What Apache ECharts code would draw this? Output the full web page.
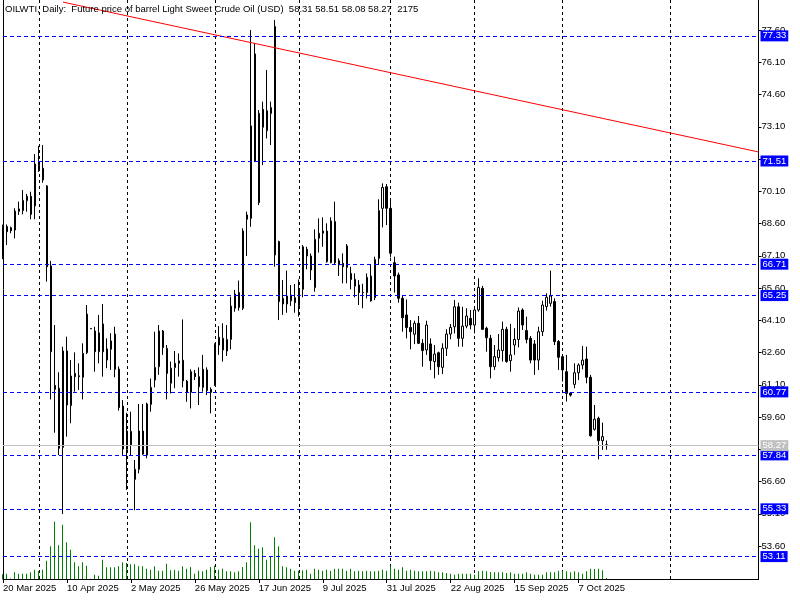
<!DOCTYPE html>
<html>
<head>
<meta charset="utf-8">
<title>OILWTI, Daily</title>
<script src="https://cdn.jsdelivr.net/npm/echarts@6.0.0/dist/echarts.min.js"></script>
<style>
  html, body { margin: 0; padding: 0; background: #fff; }
  #chart { width: 800px; height: 600px; }
</style>
</head>
<body>
<div id="chart"></div>
<script>
// daily bars, [open, close, low, high]
const ohlc = [
  [68.45, 67.06, 66.95, 68.55], [68.46, 68.22, 67.60, 68.56], [68.41, 68.27, 68.15, 68.46], [68.30, 69.18, 67.91, 69.31],
  [69.17, 69.28, 69.00, 69.62], [69.20, 69.68, 69.03, 70.16], [69.66, 69.87, 69.15, 69.98], [69.87, 69.03, 68.80, 70.08],
  [69.42, 71.37, 68.80, 71.83], [71.31, 71.06, 71.00, 72.21], [71.17, 70.63, 70.50, 72.25], [70.35, 66.59, 65.90, 70.39],
  [66.63, 62.64, 60.42, 66.86], [61.07, 60.89, 58.87, 63.88], [60.94, 58.15, 57.83, 61.68], [58.19, 62.67, 55.09, 62.87],
  [62.67, 60.16, 58.69, 63.34], [60.13, 61.51, 59.31, 62.25], [61.63, 61.48, 60.78, 62.61], [61.52, 61.48, 60.86, 62.10],
  [61.45, 62.56, 60.42, 63.03], [62.59, 64.39, 62.53, 64.81], [63.72, 63.70, 63.70, 63.72], [63.60, 62.64, 61.71, 63.80],
  [62.64, 63.52, 62.10, 64.35], [63.93, 62.64, 61.48, 64.86], [62.25, 62.77, 61.87, 63.26], [62.75, 63.14, 61.79, 63.50],
  [63.46, 61.82, 61.45, 63.80], [61.83, 60.04, 59.90, 61.95], [60.11, 58.11, 57.83, 60.39], [58.10, 58.95, 56.21, 59.80],
  [58.93, 58.31, 57.83, 59.85], [56.70, 57.17, 55.27, 57.60], [57.17, 58.95, 56.98, 60.21], [58.95, 57.88, 57.84, 60.21],
  [57.83, 60.21, 57.68, 60.27], [60.19, 60.98, 59.85, 61.39], [61.32, 61.91, 60.98, 63.57], [61.94, 63.60, 61.56, 63.88],
  [63.60, 62.83, 62.49, 63.65], [62.79, 61.63, 60.42, 62.95], [61.17, 61.87, 60.70, 62.18], [61.90, 62.10, 60.94, 62.67],
  [62.10, 62.21, 61.48, 62.56], [62.24, 61.29, 60.98, 64.14], [61.27, 60.75, 60.31, 61.32], [60.75, 61.71, 60.00, 61.82],
  [61.63, 61.48, 61.32, 61.79], [61.48, 61.01, 60.16, 61.91], [60.98, 61.82, 60.78, 62.49], [61.79, 60.83, 60.62, 61.91],
  [60.89, 60.75, 59.77, 60.98], [61.07, 62.98, 61.04, 63.03], [62.95, 63.31, 62.49, 63.83], [63.26, 62.72, 62.18, 63.96],
  [62.67, 63.21, 62.44, 63.88], [63.21, 64.76, 62.75, 65.20], [64.66, 65.32, 64.50, 65.51], [65.39, 64.70, 64.55, 65.95],
  [64.66, 68.25, 64.58, 68.38], [69.00, 68.80, 67.09, 69.15], [68.84, 73.14, 68.45, 77.60], [76.49, 71.48, 71.48, 76.98],
  [69.57, 73.73, 69.46, 73.88], [73.91, 73.08, 71.32, 74.27], [72.92, 73.85, 72.56, 75.74], [73.72, 74.00, 72.25, 74.27],
  [77.76, 67.14, 66.59, 78.07], [67.76, 64.97, 64.11, 67.80], [65.12, 64.86, 64.35, 65.97], [64.86, 65.23, 64.45, 66.41],
  [65.28, 65.01, 64.77, 65.74], [65.15, 64.92, 64.45, 65.79], [64.77, 65.51, 64.27, 66.00], [65.54, 67.52, 65.17, 67.60],
  [67.40, 67.09, 66.47, 67.52], [67.09, 66.44, 65.97, 67.21], [65.62, 67.87, 65.43, 68.33], [67.92, 68.15, 67.25, 68.84],
  [68.15, 68.25, 67.52, 68.89], [68.25, 66.83, 66.78, 68.61], [66.78, 68.72, 66.75, 68.89], [68.69, 66.78, 66.72, 69.62],
  [66.87, 66.67, 66.16, 66.98], [66.75, 66.59, 65.82, 67.21], [66.56, 67.56, 65.82, 67.65], [66.28, 66.00, 65.54, 66.59],
  [66.00, 65.69, 65.17, 66.28], [65.74, 65.39, 64.81, 65.97], [65.38, 65.40, 64.66, 65.80], [65.39, 66.10, 65.12, 66.28],
  [66.16, 65.00, 64.97, 66.70], [65.15, 66.93, 65.04, 67.06], [66.98, 69.20, 66.67, 69.73], [69.31, 70.28, 68.42, 70.47],
  [70.31, 69.31, 68.53, 70.44], [69.31, 67.22, 67.03, 69.67], [66.78, 66.16, 65.39, 67.06], [66.21, 65.12, 64.92, 66.32],
  [65.12, 64.22, 63.57, 65.28], [64.35, 63.76, 63.26, 65.07], [63.77, 63.57, 62.75, 64.11], [63.45, 63.96, 63.00, 64.08],
  [63.96, 63.03, 63.00, 64.30], [63.03, 62.69, 61.94, 63.22], [62.72, 63.88, 62.49, 64.08], [63.00, 62.22, 61.79, 63.26],
  [62.18, 62.53, 61.40, 62.95], [62.59, 61.94, 61.56, 62.64], [61.91, 62.80, 61.60, 63.03], [62.80, 63.46, 62.44, 63.68],
  [63.46, 63.77, 63.22, 63.93], [63.80, 64.73, 63.49, 65.04], [64.73, 63.26, 62.87, 64.92], [63.26, 63.83, 62.87, 64.73],
  [63.83, 64.30, 63.73, 64.66], [64.19, 63.88, 63.68, 64.58], [63.88, 64.58, 63.49, 64.70], [64.58, 65.63, 64.50, 66.05],
  [65.59, 63.68, 63.65, 65.70], [63.73, 63.29, 62.64, 63.80], [63.26, 61.94, 61.40, 63.42], [61.94, 62.41, 61.79, 62.95],
  [62.36, 62.72, 62.18, 63.46], [62.69, 63.68, 62.18, 64.04], [63.68, 62.18, 62.13, 63.80], [62.22, 62.49, 61.71, 63.93],
  [62.95, 63.21, 62.49, 63.73], [63.21, 64.53, 62.84, 64.70], [64.58, 63.88, 63.65, 64.66], [63.62, 63.21, 63.03, 64.27],
  [63.26, 62.25, 62.10, 63.37], [63.00, 62.25, 61.56, 63.18], [62.25, 63.57, 61.79, 63.80], [63.57, 64.81, 63.37, 65.01],
  [64.74, 65.17, 64.55, 65.36], [64.89, 65.23, 64.74, 66.41], [64.97, 63.11, 62.95, 65.12], [63.11, 62.38, 61.79, 63.18],
  [62.41, 61.79, 61.25, 62.49], [61.71, 60.70, 60.32, 62.49], [60.72, 60.62, 60.55, 60.75], [61.12, 61.66, 60.94, 62.10],
  [61.66, 62.02, 61.32, 62.10], [62.02, 62.25, 61.82, 62.90], [62.30, 61.45, 61.17, 62.87], [61.45, 58.73, 58.69, 61.56],
  [59.03, 59.50, 58.97, 60.16], [59.54, 58.50, 57.63, 59.62], [58.50, 58.69, 58.07, 59.34], [58.31, 58.27, 58.08, 58.51]
];

// tick volumes
const volumes = [
  10000, 11100, 1000, 14100, 11100, 11100, 11100, 14100, 19500, 16800, 19500, 38400,
  68700, 120300, 70800, 114000, 77100, 61500, 35100, 26700, 35100, 27900, 600, 9000,
  6900, 40500, 24600, 24600, 24600, 26700, 35100, 33600, 30900, 30900, 26700, 26700,
  21600, 19500, 26700, 17400, 17400, 32100, 18300, 19500, 17400, 26700, 21600, 25200,
  11100, 17400, 16200, 19500, 25200, 27900, 19500, 21600, 16200, 16200, 14100, 16200,
  25200, 35100, 119100, 70800, 63600, 66600, 40500, 47700, 87600, 68700, 26700, 24600,
  21600, 17400, 17400, 18300, 19500, 11100, 21600, 19500, 17400, 19500, 17400, 21600,
  21600, 21600, 17400, 21600, 16200, 17400, 16200, 17400, 16200, 16200, 17400, 19500,
  17400, 26700, 21600, 19500, 24600, 17400, 19500, 17400, 16200, 16200, 16200, 17400,
  16200, 14100, 14100, 12600, 11100, 9000, 11100, 11100, 11100, 11100, 9000, 16200,
  17400, 16200, 14700, 14100, 14100, 14100, 12600, 14100, 11100, 11100, 11100, 14100,
  11100, 9000, 9000, 9000, 14100, 14100, 14100, 17400, 16200, 16200, 14100, 16200,
  14100, 11100, 16200, 21600, 21000, 21600, 18300, 2175
];

// one label every 16 bars
const tickLabels = ['20 Mar 2025', '10 Apr 2025', '2 May 2025', '26 May 2025', '17 Jun 2025',
  '9 Jul 2025', '31 Jul 2025', '22 Aug 2025', '15 Sep 2025', '7 Oct 2025'];
const priceLabels = [53.6, 55.1, 56.6, 58.1, 59.6, 61.1, 62.6, 64.1, 65.6, 67.1, 68.6, 70.1, 71.6, 73.1, 74.6, 76.1, 77.6];
// bars where the dotted vertical grid lines fall
const gridBars = [9, 31, 53, 74, 97, 118, 140, 167];
const levels = [77.33, 71.51, 66.71, 65.25, 60.77, 57.84, 55.33, 53.11];
const lastPrice = 58.27;
const trendLine = [[15, 78.90], [189, 71.93]];
const emptyBars = 38;   // blank space right of the last bar

const categories = [];
for (let i = 0; i < ohlc.length + emptyBars; i++) categories.push(String(i));

const font = '"Liberation Sans", Arial, sans-serif';
const fs = 9.5;
const showTick = (i) => i % 16 === 0 && i < ohlc.length;

const chart = echarts.init(document.getElementById('chart'));

chart.setOption({
  animation: false,
  backgroundColor: '#fff',
  title: {
    text: 'OILWTI, Daily:  Future price of barrel Light Sweet Crude Oil (USD)  58.31 58.51 58.08 58.27  2175',
    left: 5,
    top: 4,
    padding: 0,
    textStyle: { fontSize: fs, fontWeight: 'normal', color: '#000', fontFamily: font }
  },
  grid: [
    { left: 2.5, top: 0, width: 756, height: 579 },
    { left: 2.5, top: 479, width: 756, height: 100 }
  ],
  xAxis: [
    {
      type: 'category',
      gridIndex: 0,
      data: categories,
      boundaryGap: false,
      axisLine: { lineStyle: { color: '#000' } },
      axisTick: { interval: showTick, length: 4, lineStyle: { color: '#000' } },
      axisLabel: {
        interval: showTick,
        formatter: (v, i) => tickLabels[i / 16] || '',
        align: 'left',
        margin: 4,
        color: '#000',
        fontSize: fs,
        fontFamily: font
      },
      splitLine: {
        show: true,
        interval: (i) => gridBars.indexOf(i) >= 0,
        lineStyle: { color: '#000', type: [3, 3] }
      }
    },
    { type: 'category', gridIndex: 1, data: categories, boundaryGap: false, show: false }
  ],
  yAxis: [
    {
      type: 'value',
      gridIndex: 0,
      position: 'right',
      min: 52.067,
      max: 78.998,
      axisLine: { show: true, lineStyle: { color: '#000' } },
      axisTick: { show: true, customValues: priceLabels, length: 3, lineStyle: { color: '#000' } },
      axisLabel: {
        customValues: priceLabels,
        formatter: (v) => v.toFixed(2),
        margin: 3,
        color: '#000',
        fontSize: fs,
        fontFamily: font
      },
      splitLine: { show: false }
    },
    {
      type: 'value',
      gridIndex: 0,
      position: 'left',
      min: 52.067,
      max: 78.998,
      axisLine: { show: true, lineStyle: { color: '#000' } },
      axisTick: { show: false },
      axisLabel: { show: false },
      splitLine: { show: false }
    },
    { type: 'value', gridIndex: 1, min: 0, max: 210000, show: false }
  ],
  series: [
    {
      type: 'candlestick',
      xAxisIndex: 0,
      yAxisIndex: 0,
      data: ohlc,
      barWidth: 2,
      itemStyle: { color: '#fff', color0: '#000', borderColor: '#000', borderColor0: '#000', borderWidth: 1 },
      markLine: {
        silent: true,
        symbol: 'none',
        lineStyle: { color: '#0000ff', type: [4, 3], width: 1 },
        label: {
          position: 'end',
          distance: 2,
          formatter: (p) => p.value.toFixed(2),
          backgroundColor: '#0000ff',
          color: '#fff',
          fontSize: fs,
          fontFamily: font,
          padding: [1, 2, 0, 2]
        },
        data: levels.map((v) => ({ yAxis: v })).concat([{
          yAxis: lastPrice,
          lineStyle: { color: '#c0c0c0', type: 'solid' },
          label: { backgroundColor: '#c0c0c0' }
        }])
      }
    },
    {
      type: 'line',
      xAxisIndex: 0,
      yAxisIndex: 0,
      data: trendLine,
      symbol: 'none',
      clip: true,
      lineStyle: { color: '#ff0000', width: 1 }
    },
    {
      type: 'bar',
      xAxisIndex: 1,
      yAxisIndex: 2,
      data: volumes,
      barWidth: 1,
      itemStyle: { color: '#008000' }
    }
  ]
});
</script>
</body>
</html>
